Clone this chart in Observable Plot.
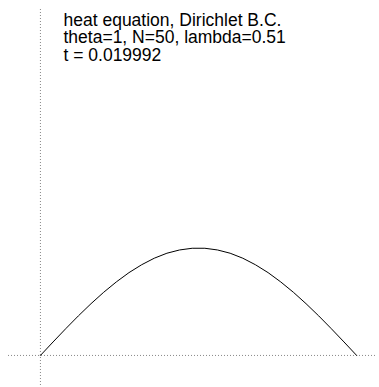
<!DOCTYPE html>
<html>
<head>
<meta charset="utf-8">
<script src="https://cdn.jsdelivr.net/npm/d3@7"></script>
<script src="https://cdn.jsdelivr.net/npm/@observablehq/plot@0.6"></script>
<style>
  html, body { margin: 0; padding: 0; background: #fff; }
</style>
</head>
<body>
<div id="chart"></div>
<script>
// Grid points (x) and solution values u(x)
const xs = [0, 0.04, 0.08, 0.12, 0.16, 0.20, 0.24, 0.28, 0.32, 0.36, 0.40, 0.44, 0.48,
            0.52, 0.56, 0.60, 0.64, 0.68, 0.72, 0.76, 0.80, 0.84, 0.88, 0.92, 0.96, 1.00];
const us = [0, 0.103, 0.204, 0.302, 0.395, 0.482, 0.561, 0.632, 0.692, 0.742, 0.780, 0.805, 0.818,
            0.818, 0.805, 0.780, 0.742, 0.692, 0.632, 0.561, 0.482, 0.395, 0.302, 0.204, 0.103, 0];
const xDomain = [-0.101, 1.066];
const yDomain = [-0.237, 2.64];
const titleLines = ["heat equation, Dirichlet B.C.", "theta=1, N=50, lambda=0.51", "t = 0.019992"];

const data = xs.map((x, i) => ({x, u: us[i]}));

const chart = Plot.plot({
  width: 379,
  height: 387,
  marginLeft: 8,
  marginRight: 2,
  marginTop: 9,
  marginBottom: 1,
  style: {background: "#fff", fontFamily: "'Liberation Sans', Arial, Helvetica, sans-serif"},
  x: {domain: xDomain, axis: null},
  y: {domain: yDomain, axis: null},
  marks: [
    Plot.ruleX([0], {stroke: "#888", strokeWidth: 1, strokeDasharray: "1,2"}),
    Plot.ruleY([0], {stroke: "#888", strokeWidth: 1, strokeDasharray: "1,2"}),
    Plot.line(data, {x: "x", y: "u", stroke: "#000", strokeWidth: 1}),
    Plot.text([titleLines.join("\n")], {
      frameAnchor: "top-left",
      textAnchor: "start",
      lineAnchor: "top",
      dx: 55,
      dy: 4,
      fontSize: 17.5,
      lineHeight: 1.0,
      fill: "#000"
    })
  ]
});
document.getElementById("chart").appendChild(chart);
</script>
</body>
</html>
